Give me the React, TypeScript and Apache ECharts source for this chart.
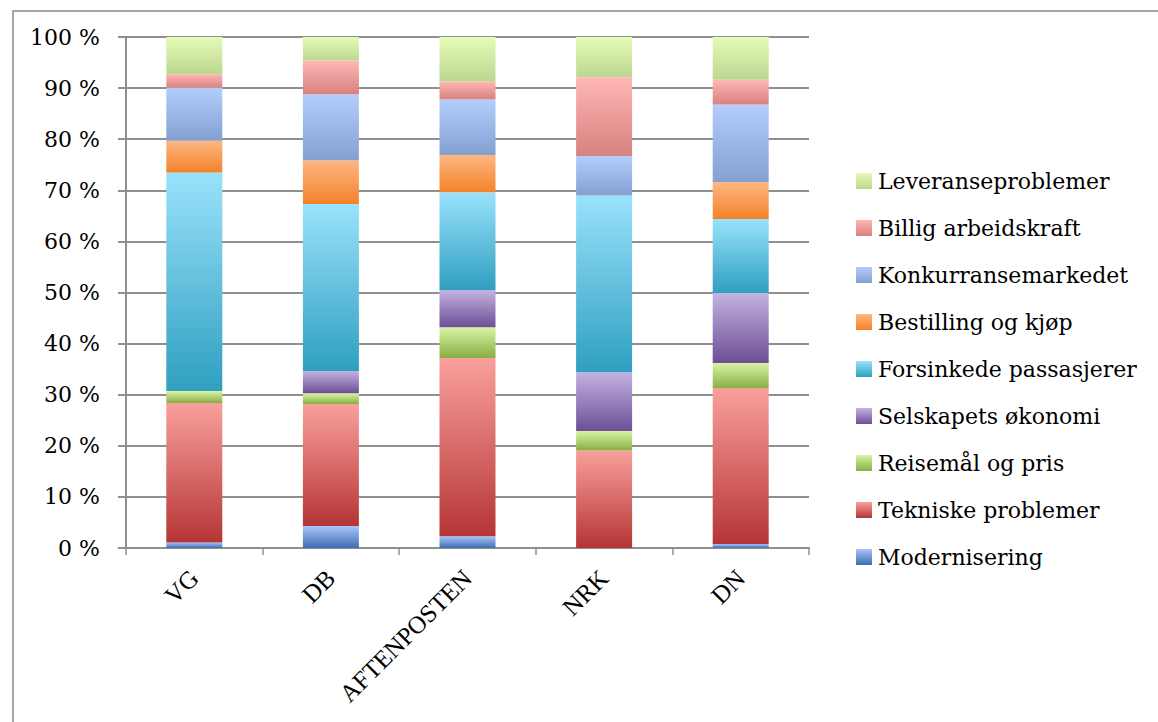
import React, { useEffect, useRef } from "react";
import * as echarts from "echarts";

const categories = ["VG", "DB", "AFTENPOSTEN", "NRK", "DN"];
const yTicks = { min: 0, max: 100, interval: 10 };

const modernisering = [1.1, 4.3, 2.3, 0, 0.8];
const tekniske = [27.3, 23.9, 34.9, 19.1, 30.5];
const reisemal = [2.3, 2.1, 6.0, 3.8, 4.9];
const selskapets = [0, 4.3, 7.3, 11.5, 13.7];
const forsinkede = [42.8, 32.7, 19.1, 34.6, 14.5];
const bestilling = [6.2, 8.6, 7.3, 0, 7.2];
const konkurranse = [10.4, 12.9, 10.9, 7.7, 15.2];
const billig = [2.6, 6.6, 3.5, 15.4, 4.9];
const leveranse = [7.3, 4.6, 8.7, 7.9, 8.3];

const seriesDefs = [
  { name: "Modernisering", data: modernisering, top: "#a9c5fb", bottom: "#3d6db2" },
  { name: "Tekniske problemer", data: tekniske, top: "#f9a09c", bottom: "#b53535" },
  { name: "Reisemål og pris", data: reisemal, top: "#d9f4a5", bottom: "#8aae45" },
  { name: "Selskapets økonomi", data: selskapets, top: "#c4b3e1", bottom: "#6c4e96" },
  { name: "Forsinkede passasjerer", data: forsinkede, top: "#9ae2fc", bottom: "#2f9fc0" },
  { name: "Bestilling og kjøp", data: bestilling, top: "#fdb783", bottom: "#f3822a" },
  { name: "Konkurransemarkedet", data: konkurranse, top: "#b3cefd", bottom: "#84a0d1" },
  { name: "Billig arbeidskraft", data: billig, top: "#ffb7b5", bottom: "#d8827f" },
  { name: "Leveranseproblemer", data: leveranse, top: "#e5fcb6", bottom: "#bdd68f" },
];

export default function App() {
  const ref = useRef<HTMLDivElement>(null);
  useEffect(() => {
    document.body.style.margin = "0";
    if (!ref.current) return;
    const chart = echarts.init(ref.current, undefined, { renderer: "svg" });
    const grey = "#8f8f8f";
    chart.setOption({
      animation: false,
      backgroundColor: "#ffffff",
      graphic: [
        {
          type: "rect",
          left: 10.5,
          top: 8.5,
          shape: { width: 1300, height: 900 },
          style: { fill: "none", stroke: "#8a8a8a", lineWidth: 1.5 },
          silent: true,
          z: -1,
        },
      ],
      grid: { left: 126, top: 37, width: 683, height: 511, containLabel: false },
      legend: {
        orient: "vertical",
        left: 851,
        top: 164,
        itemWidth: 16,
        itemHeight: 16,
        itemGap: 23,
        icon: "rect",
        data: seriesDefs.map((s) => s.name).reverse(),
        textStyle: {
          fontFamily: "DejaVu Serif",
          fontSize: 22,
          lineHeight: 24,
          color: "#000",
          padding: [0, 0, 0, 1],
        },
      },
      xAxis: {
        type: "category",
        data: categories,
        axisLine: { lineStyle: { color: grey, width: 2 } },
        axisTick: { show: true, length: 7, lineStyle: { color: grey, width: 1.5 } },
        axisLabel: {
          rotate: 45,
          margin: 26,
          color: "#000",
          fontFamily: "Liberation Serif",
          fontSize: 25,
        },
      },
      yAxis: {
        type: "value",
        min: yTicks.min,
        max: yTicks.max,
        interval: yTicks.interval,
        axisLine: { show: true, lineStyle: { color: grey, width: 2 } },
        axisTick: { show: true, length: 8, lineStyle: { color: grey, width: 2 } },
        splitLine: { lineStyle: { color: grey, width: 2 } },
        axisLabel: {
          formatter: "{value} %",
          margin: 26,
          color: "#000",
          fontFamily: "DejaVu Serif",
          fontSize: 22,
        },
      },
      series: seriesDefs.map((s) => ({
        name: s.name,
        type: "bar",
        stack: "total",
        barWidth: 56,
        data: s.data,
        itemStyle: {
          color: new echarts.graphic.LinearGradient(0, 0, 0, 1, [
            { offset: 0, color: s.top },
            { offset: 1, color: s.bottom },
          ]),
        },
      })),
    });
    return () => chart.dispose();
  }, []);
  return <div ref={ref} style={{ width: 1158, height: 722 }} />;
}
